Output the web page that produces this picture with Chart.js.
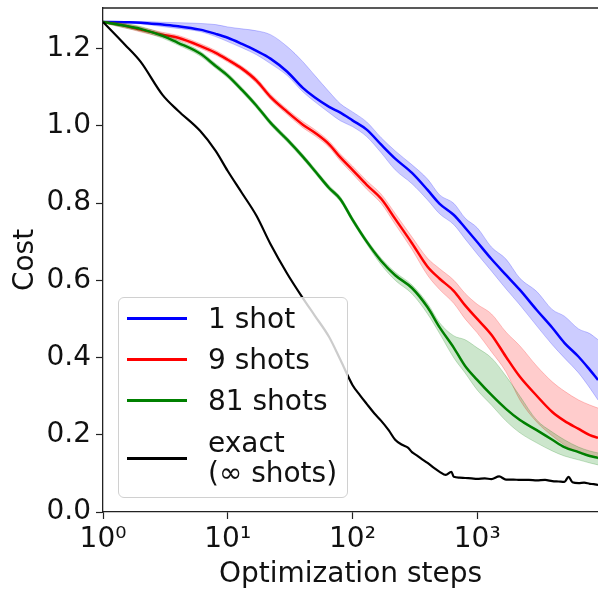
<!DOCTYPE html>
<html>
<head>
<meta charset="utf-8">
<script src="https://cdn.jsdelivr.net/npm/chart.js@4.4.0/dist/chart.umd.min.js"></script>
<style>
    html, body { margin: 0; padding: 0; background: #fff; }
    #wrap { position: relative; width: 598px; height: 592px; overflow: hidden; }
    #costLegend {
        position: absolute; left: 118px; top: 297px; width: 230px; height: 201px;
        box-sizing: border-box; border: 1px solid #d0d0d0; border-radius: 6px;
        background: rgba(255, 255, 255, 0.8);
        font-family: "DejaVu Sans", sans-serif; font-size: 28px; color: #111;
    }
    .legend-row { display: flex; align-items: center; height: 41px; }
    .legend-row.two-line { height: 60px; margin-top: 7px; }
    .legend-line { width: 60px; height: 3px; margin-left: 8px; margin-right: 21px; flex: none; }
    .legend-text { line-height: 30px; white-space: nowrap; }
</style>
</head>
<body>
<div id="wrap">
    <canvas id="costChart" width="598" height="592"></canvas>
    <div id="costLegend"></div>
</div>
<script>
const steps = [1, 1.5, 2, 3, 4, 6, 8, 10, 13, 17, 22, 30, 40, 50, 65, 80, 100, 130, 170, 220,
    300, 400, 500, 650, 800, 1000, 1300, 1700, 2200, 3000, 4000, 5000, 6500, 8000, 9300];

const costBlue = [1.269, 1.268, 1.267, 1.262, 1.258, 1.249, 1.238, 1.228, 1.212, 1.194, 1.174, 1.14, 1.098, 1.073, 1.049, 1.034, 1.014, 0.99, 0.951, 0.915,
    0.878, 0.834, 0.798, 0.769, 0.736, 0.699, 0.655, 0.614, 0.575, 0.523, 0.477, 0.438, 0.402, 0.368, 0.342];
const blueUpper = [1.27, 1.27, 1.27, 1.268, 1.267, 1.265, 1.262, 1.256, 1.251, 1.246, 1.236, 1.205, 1.166, 1.13, 1.088, 1.057, 1.036, 1.01, 0.969, 0.935,
    0.899, 0.862, 0.821, 0.799, 0.761, 0.736, 0.686, 0.655, 0.605, 0.571, 0.524, 0.507, 0.474, 0.462, 0.446];
const blueLower = [1.267, 1.266, 1.264, 1.257, 1.252, 1.244, 1.231, 1.218, 1.202, 1.184, 1.161, 1.13, 1.088, 1.062, 1.034, 1.013, 0.998, 0.972, 0.93, 0.886,
    0.85, 0.808, 0.772, 0.744, 0.707, 0.668, 0.624, 0.578, 0.536, 0.482, 0.433, 0.399, 0.36, 0.321, 0.29];

const costRed = [1.269, 1.259, 1.249, 1.236, 1.228, 1.207, 1.189, 1.171, 1.148, 1.117, 1.075, 1.036, 1.003, 0.982, 0.952, 0.918, 0.886, 0.847, 0.811, 0.759,
    0.696, 0.635, 0.604, 0.572, 0.535, 0.5, 0.459, 0.402, 0.35, 0.301, 0.259, 0.236, 0.215, 0.199, 0.192];
const redUpper = [1.27, 1.264, 1.255, 1.242, 1.234, 1.213, 1.195, 1.177, 1.154, 1.124, 1.082, 1.043, 1.011, 0.99, 0.96, 0.927, 0.896, 0.858, 0.823, 0.773,
    0.712, 0.657, 0.63, 0.6, 0.566, 0.538, 0.513, 0.466, 0.43, 0.378, 0.337, 0.313, 0.29, 0.277, 0.269];
const redLower = [1.266, 1.254, 1.243, 1.23, 1.222, 1.201, 1.183, 1.165, 1.142, 1.11, 1.068, 1.029, 0.995, 0.974, 0.944, 0.909, 0.876, 0.836, 0.799, 0.745,
    0.68, 0.613, 0.576, 0.54, 0.5, 0.464, 0.415, 0.363, 0.29, 0.233, 0.197, 0.174, 0.153, 0.145, 0.14];

const costGreen = [1.269, 1.259, 1.251, 1.233, 1.215, 1.187, 1.155, 1.13, 1.093, 1.052, 1.008, 0.964, 0.92, 0.883, 0.839, 0.81, 0.757, 0.7, 0.65, 0.613,
    0.58, 0.53, 0.478, 0.425, 0.378, 0.342, 0.303, 0.267, 0.238, 0.212, 0.187, 0.168, 0.155, 0.145, 0.14];
const greenUpper = [1.271, 1.265, 1.257, 1.239, 1.221, 1.193, 1.161, 1.136, 1.099, 1.058, 1.014, 0.97, 0.926, 0.889, 0.845, 0.816, 0.763, 0.706, 0.657, 0.621,
    0.588, 0.54, 0.49, 0.456, 0.446, 0.425, 0.399, 0.352, 0.3, 0.238, 0.207, 0.187, 0.168, 0.158, 0.153];
const greenLower = [1.267, 1.253, 1.245, 1.227, 1.209, 1.181, 1.149, 1.124, 1.087, 1.046, 1.002, 0.958, 0.914, 0.877, 0.833, 0.804, 0.751, 0.694, 0.64, 0.6,
    0.565, 0.513, 0.462, 0.399, 0.36, 0.316, 0.277, 0.236, 0.205, 0.179, 0.158, 0.145, 0.135, 0.127, 0.122];

const exactSteps = [1, 1.5, 2, 3, 4, 6, 8, 10, 13, 17, 22, 30, 40, 50, 65, 80, 100, 115, 130, 150,
    170, 195, 220, 250, 280, 300, 330, 360, 400, 450, 500, 560, 620, 650, 720, 800, 900, 1000, 1150, 1300,
    1500, 1700, 1950, 2200, 2600, 3000, 3500, 4000, 4500, 5000, 5400, 5800, 6500, 7200, 8000, 8600, 9300];
const costExact = [1.269, 1.21, 1.166, 1.08, 1.039, 0.987, 0.935, 0.883, 0.826, 0.767, 0.694, 0.617, 0.554, 0.508, 0.453, 0.394, 0.329, 0.302, 0.28, 0.255,
    0.236, 0.212, 0.187, 0.174, 0.166, 0.155, 0.146, 0.137, 0.127, 0.114, 0.104, 0.096, 0.104, 0.091, 0.089, 0.088, 0.087, 0.086, 0.087, 0.085,
    0.092, 0.084, 0.084, 0.083, 0.083, 0.082, 0.083, 0.08, 0.079, 0.078, 0.091, 0.077, 0.075, 0.076, 0.073, 0.072, 0.07];

const xTickValues = [1, 10, 100, 1000];
const yTickValues = [0, 0.2, 0.4, 0.6, 0.8, 1.0, 1.2];
const superscripts = ['⁰', '¹', '²', '³', '⁴'];

document.addEventListener('DOMContentLoaded', function () {
    const fontFamily = '"DejaVu Sans", sans-serif';
    const textColor = '#111';

    function points(xs, ys) {
        return xs.map((x, i) => ({ x: x, y: ys[i] }));
    }

    function band(ys, rgb, order, fill) {
        return {
            data: points(steps, ys),
            borderColor: `rgba(${rgb}, 0.22)`,
            backgroundColor: `rgba(${rgb}, 0.2)`,
            borderWidth: 1,
            fill: fill,
            order: order,
            inLegend: false
        };
    }

    function meanLine(label, xs, ys, color, order, width) {
        return {
            label: label,
            data: points(xs, ys),
            borderColor: color,
            backgroundColor: color,
            borderWidth: width,
            fill: false,
            order: order,
            inLegend: true
        };
    }

    const datasets = [
        band(blueUpper, '0, 0, 255', 7, '+1'),
        band(blueLower, '0, 0, 255', 7, false),
        meanLine('1 shot', steps, costBlue, '#0000ff', 6, 2.5),
        band(redUpper, '255, 0, 0', 5, '+1'),
        band(redLower, '255, 0, 0', 5, false),
        meanLine('9 shots', steps, costRed, '#ff0000', 4, 2.5),
        band(greenUpper, '0, 128, 0', 3, '+1'),
        band(greenLower, '0, 128, 0', 3, false),
        meanLine('81 shots', steps, costGreen, '#008000', 2, 2.5),
        meanLine('exact\n(∞ shots)', exactSteps, costExact, '#000000', 1, 2.2)
    ];

    // top spine (matplotlib frame), right side is cut off in the original
    const topFrame = {
        id: 'topFrame',
        afterDatasetsDraw(chart) {
            const { ctx, chartArea } = chart;
            ctx.save();
            ctx.strokeStyle = '#222';
            ctx.lineWidth = 1.3;
            ctx.beginPath();
            ctx.moveTo(chartArea.left, chartArea.top);
            ctx.lineTo(chartArea.right, chartArea.top);
            ctx.stroke();
            ctx.restore();
        }
    };

    const axisFont = { family: fontFamily, size: 28 };

    const costCtx = document.getElementById('costChart').getContext('2d');
    const chart = new Chart(costCtx, {
        type: 'line',
        data: { datasets: datasets },
        options: {
            responsive: false,
            animation: false,
            devicePixelRatio: 1,
            layout: { padding: { top: 8, left: 0, right: 0, bottom: 0 }, autoPadding: false },
            elements: { point: { radius: 0 }, line: { cubicInterpolationMode: 'monotone' } },
            plugins: {
                legend: { display: false },
                tooltip: { enabled: false },
                filler: { propagate: false }
            },
            scales: {
                x: {
                    type: 'logarithmic',
                    min: 1,
                    max: 9300,
                    afterBuildTicks: function (scale) {
                        scale.ticks = xTickValues.map(v => ({ value: v, major: true }));
                    },
                    afterFit: function (scale) {
                        scale.height = 80;
                        scale.paddingLeft = 0;
                        scale.paddingRight = 0;
                    },
                    ticks: {
                        autoSkip: false,
                        maxRotation: 0,
                        padding: 4,
                        color: textColor,
                        font: axisFont,
                        callback: function (value) {
                            return '10' + superscripts[Math.round(Math.log10(value))];
                        }
                    },
                    grid: { drawOnChartArea: false, drawTicks: true, tickLength: 7, tickColor: '#222', tickWidth: 1.2 },
                    border: { display: true, color: '#222', width: 1.3 },
                    title: { display: true, text: 'Optimization steps', color: textColor, font: axisFont, padding: { top: 0, bottom: 0 } }
                },
                y: {
                    min: 0,
                    max: 1.305,
                    afterBuildTicks: function (scale) {
                        scale.ticks = yTickValues.map(v => ({ value: v }));
                    },
                    afterFit: function (scale) {
                        scale.width = 103;
                        scale.paddingTop = 0;
                        scale.paddingBottom = 0;
                    },
                    ticks: {
                        padding: 5,
                        color: textColor,
                        font: axisFont,
                        callback: function (value) {
                            return value.toFixed(1);
                        }
                    },
                    grid: { drawOnChartArea: false, drawTicks: true, tickLength: 7, tickColor: '#222', tickWidth: 1.2 },
                    border: { display: true, color: '#222', width: 1.3 },
                    title: { display: true, text: 'Cost', color: textColor, font: axisFont, padding: { top: 9, bottom: 0 } }
                }
            }
        },
        plugins: [topFrame]
    });

    const legendBox = document.getElementById('costLegend');
    chart.data.datasets.filter(ds => ds.inLegend).forEach(function (ds) {
        const lines = ds.label.split('\n');
        const row = document.createElement('div');
        row.className = 'legend-row' + (lines.length > 1 ? ' two-line' : '');
        const swatch = document.createElement('span');
        swatch.className = 'legend-line';
        swatch.style.background = ds.borderColor;
        const text = document.createElement('span');
        text.className = 'legend-text';
        lines.forEach(function (line, i) {
            if (i > 0) text.appendChild(document.createElement('br'));
            text.appendChild(document.createTextNode(line));
        });
        row.appendChild(swatch);
        row.appendChild(text);
        legendBox.appendChild(row);
    });
});
</script>
</body>
</html>
